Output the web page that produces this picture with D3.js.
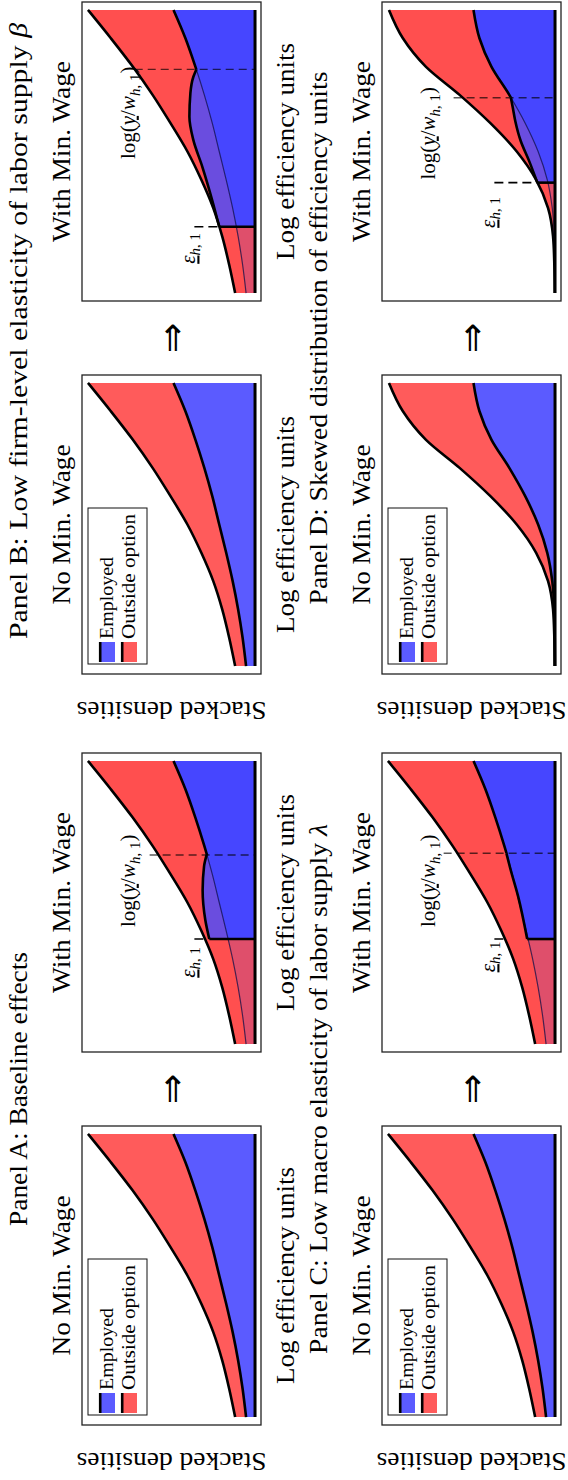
<!DOCTYPE html>
<html>
<head>
<meta charset="utf-8">
<script src="https://cdn.jsdelivr.net/npm/d3@7"></script>
<style>
  body { margin: 0; background: #fff; }
  svg { display: block; }
  text { font-family: "Liberation Serif", "DejaVu Serif", serif; fill: #000; }
</style>
</head>
<body>
<div id="chart"></div>
<script>
// log efficiency units, normalised to the plotted range
const effUnits = [0, 0.1, 0.2, 0.3, 0.4, 0.5, 0.6, 0.7, 0.8, 0.9, 1.0];

// stacked densities, panels A-C share the same distribution
const employedBase = [0.09, 0.125, 0.17, 0.225, 0.29, 0.36, 0.43, 0.51, 0.60, 0.70, 0.82];
const outsideBase  = [0.11, 0.135, 0.16, 0.195, 0.25, 0.32, 0.42, 0.52, 0.63, 0.75, 0.86];

// panel D, skewed distribution of efficiency units
const employedSkew = [0.001, 0.003, 0.008, 0.028, 0.078, 0.17, 0.30, 0.46, 0.64, 0.76, 0.82];
const outsideSkew  = [0.002, 0.004, 0.012, 0.042, 0.112, 0.215, 0.35, 0.50, 0.66, 0.77, 0.85];

// with min. wage: employment threshold and kink at log(y/w) for panels A-D
const thresholds = [0.371, 0.234, 0.371, 0.39];
const kinks      = [0.668, 0.79, 0.674, 0.69];

// employment between the threshold and the kink once the min. wage binds
const newEmpXA = [0.371, 0.438, 0.544, 0.627, 0.668];
const newEmpA  = [0.46, 0.50, 0.527, 0.513, 0.487];
const newEmpXB = [0.234, 0.327, 0.446, 0.54, 0.623, 0.706, 0.764, 0.79];
const newEmpB  = [0.36, 0.43, 0.53, 0.62, 0.66, 0.65, 0.62, 0.59];
const newEmpXC = [0.371, 0.52, 0.62, 0.674];
const newEmpC  = [0.28, 0.37, 0.45, 0.489];
const newEmpXD = [0.39, 0.466, 0.537, 0.608, 0.655, 0.69];
const newEmpD  = [0.178, 0.26, 0.345, 0.40, 0.425, 0.444];

const panelTitles = [
  "Panel A: Baseline effects",
  "Panel B: Low firm-level elasticity of labor supply ",
  "Panel C: Low macro elasticity of labor supply ",
  "Panel D: Skewed distribution of efficiency units"
];
const panelSymbols = ["", "β", "λ", ""];
const legendLabels = ["Employed", "Outside option"];

// colours
const RED0 = "#ff5b5b", BLUE0 = "#5b5bff";
const RED1 = "#ff4f4f", BLUE1 = "#4646ff", PINK = "#df4f6b", PURPLE = "#6a4ddf";

const W = 568, H = 1480;
const boxW = 299, boxH = 179;

const svg = d3.select("#chart").append("svg")
  .attr("width", W)
  .attr("height", H);

// the figure is laid out in landscape and turned a quarter turn anticlockwise
const fig = svg.append("g")
  .attr("transform", `translate(0,${H}) rotate(-90)`);
const defs = svg.append("defs");

const panels = [
  { emp: employedBase, out: outsideBase, newX: newEmpXA, newY: newEmpA, left: 55, top: 82,
    titleLen: 274, logX: 0.74, epsX: 0.343, kinkTop: 1.06 },
  { emp: employedBase, out: outsideBase, newX: newEmpXB, newY: newEmpB, left: 806, top: 82,
    titleLen: 616, logX: 0.80, epsX: 0.212, kinkTop: 1.21 },
  { emp: employedBase, out: outsideBase, newX: newEmpXC, newY: newEmpC, left: 55, top: 382,
    titleLen: 530, logX: 0.74, epsX: 0.362, kinkTop: 1.12 },
  { emp: employedSkew, out: outsideSkew, newX: newEmpXD, newY: newEmpD, left: 806, top: 382,
    titleLen: 533, logX: 0.728, epsX: 0.339, kinkTop: 1.02 }
];

function makeScales(bx, by) {
  return {
    x: d3.scaleLinear().domain([-0.028, 1.028]).range([bx, bx + boxW]),
    y: d3.scaleLinear().domain([-0.06, 1.74]).range([by + boxH, by])
  };
}

function stackRows(emp, out) {
  const rows = effUnits.map((u, i) => ({ u: u, employed: emp[i], outside: out[i] }));
  return d3.stack().keys(["employed", "outside"])(rows);
}

function thick(sel, w) {
  return sel.attr("fill", "none").attr("stroke", "#000")
    .attr("stroke-width", w || 2.6).attr("stroke-linejoin", "round");
}

function clipRect(id, x0, x1, by) {
  defs.append("clipPath").attr("id", id)
    .append("rect")
    .attr("x", x0).attr("y", by - 5)
    .attr("width", x1 - x0).attr("height", boxH + 10);
  return `url(#${id})`;
}

function frame(g, bx, by) {
  g.append("rect")
    .attr("x", bx).attr("y", by)
    .attr("width", boxW).attr("height", boxH)
    .attr("fill", "none").attr("stroke", "#222").attr("stroke-width", 1.3);
}

function subTitle(g, bx, by, label, len) {
  g.append("text")
    .attr("x", bx + boxW / 2).attr("y", by - 12)
    .attr("text-anchor", "middle")
    .attr("font-size", 25)
    .attr("textLength", len).attr("lengthAdjust", "spacingAndGlyphs")
    .text(label);
}

function xLabel(g, bx, by) {
  if (by > 300) return; // lower row labels fall below the page
  g.append("text")
    .attr("x", bx + boxW / 2).attr("y", by + boxH + 33)
    .attr("text-anchor", "middle")
    .attr("font-size", 25)
    .attr("textLength", 217).attr("lengthAdjust", "spacingAndGlyphs")
    .text("Log efficiency units");
}

function drawNoMin(p, bx, by) {
  const g = fig.append("g");
  const { x, y } = makeScales(bx, by);
  const series = stackRows(p.emp, p.out);

  const area = d3.area()
    .x(d => x(d.data.u)).y0(d => y(d[0])).y1(d => y(d[1]))
    .curve(d3.curveMonotoneX);
  const line = d3.line()
    .x(d => x(d.data.u)).y(d => y(d[1]))
    .curve(d3.curveMonotoneX);

  g.append("path").attr("d", area(series[1])).attr("fill", RED0);
  g.append("path").attr("d", area(series[0])).attr("fill", BLUE0);
  thick(g.append("path").attr("d", line(series[1])));
  thick(g.append("path").attr("d", line(series[0])));
  thick(g.append("line")
    .attr("x1", x(0)).attr("x2", x(1))
    .attr("y1", y(0)).attr("y2", y(0)), 3);

  frame(g, bx, by);

  // legend
  const lg = g.append("g").attr("transform", `translate(${bx + 10},${by + 6})`);
  lg.append("rect")
    .attr("width", 156).attr("height", 59)
    .attr("fill", "#fff").attr("stroke", "#111").attr("stroke-width", 1);
  [BLUE0, RED0].forEach((c, i) => {
    const top = i === 0 ? 11 : 33;
    lg.append("rect")
      .attr("x", 2).attr("y", top)
      .attr("width", 20).attr("height", 16)
      .attr("fill", c);
    lg.append("line")
      .attr("x1", 2).attr("x2", 22)
      .attr("y1", top + 1.2).attr("y2", top + 1.2)
      .attr("stroke", "#000").attr("stroke-width", 2.6);
    lg.append("text")
      .attr("x", 25).attr("y", top + 14)
      .attr("font-size", 18)
      .attr("textLength", i === 0 ? 82 : 125).attr("lengthAdjust", "spacingAndGlyphs")
      .text(legendLabels[i]);
  });

  subTitle(g, bx, by, "No Min. Wage", 160);
  xLabel(g, bx, by);

  g.append("text")
    .attr("transform", `translate(${bx - 28},${by + boxH / 2}) rotate(-90)`)
    .attr("text-anchor", "middle")
    .attr("font-size", 25)
    .attr("textLength", 190).attr("lengthAdjust", "spacingAndGlyphs")
    .text("Stacked densities");
}

function drawWithMin(p, idx, bx, by) {
  const g = fig.append("g");
  const { x, y } = makeScales(bx, by);
  const series = stackRows(p.emp, p.out);
  const thr = thresholds[idx], kink = kinks[idx];
  const newPts = p.newX.map((u, i) => [u, p.newY[i]]);

  const areaStack = d3.area()
    .x(d => x(d.data.u)).y0(() => y(0)).y1(d => y(d[1]))
    .curve(d3.curveMonotoneX);
  const lineStack = d3.line()
    .x(d => x(d.data.u)).y(d => y(d[1]))
    .curve(d3.curveMonotoneX);
  const areaNew = d3.area()
    .x(d => x(d[0])).y0(() => y(0)).y1(d => y(d[1]))
    .curve(d3.curveMonotoneX);
  const lineNew = d3.line()
    .x(d => x(d[0])).y(d => y(d[1]))
    .curve(d3.curveMonotoneX);

  const cLeft = clipRect(`c${idx}l`, bx, x(thr), by);
  const cRight = clipRect(`c${idx}r`, x(thr), bx + boxW, by);
  const cPre = clipRect(`c${idx}p`, bx, x(kink), by);
  const cPost = clipRect(`c${idx}a`, x(kink), bx + boxW, by);

  // threshold marker, sits under the fills
  g.append("line")
    .attr("x1", x(thr)).attr("x2", x(thr))
    .attr("y1", y(0.61)).attr("y2", y(0))
    .attr("stroke", "#000").attr("stroke-width", 1.6)
    .attr("stroke-dasharray", "9,5");

  g.append("path").attr("d", areaStack(series[1])).attr("fill", RED1);
  g.append("path").attr("d", areaNew(newPts)).attr("fill", PURPLE);
  g.append("path").attr("d", areaStack(series[0])).attr("fill", BLUE1).attr("clip-path", cRight);
  g.append("path").attr("d", areaStack(series[0])).attr("fill", PINK).attr("clip-path", cLeft);

  thick(g.append("path").attr("d", lineStack(series[1])));
  g.append("path").attr("d", lineStack(series[0]))
    .attr("fill", "none").attr("stroke", "#10104a").attr("stroke-opacity", 0.75)
    .attr("stroke-width", 1.2).attr("clip-path", cPre);
  thick(g.append("path").attr("d", lineStack(series[0]))).attr("clip-path", cPost);
  thick(g.append("path").attr("d", lineNew(newPts)));
  thick(g.append("path").attr("d", lineNew([[thr, 0], newPts[0]])));

  // kink at log(y/w), drawn over the fills
  g.append("line")
    .attr("x1", x(kink)).attr("x2", x(kink))
    .attr("y1", y(p.kinkTop)).attr("y2", y(0))
    .attr("stroke", "#000").attr("stroke-opacity", 0.65).attr("stroke-width", 1.4)
    .attr("stroke-dasharray", "8,5");

  thick(g.append("line")
    .attr("x1", x(0)).attr("x2", x(1))
    .attr("y1", y(0)).attr("y2", y(0)), 3);

  frame(g, bx, by);

  const logLab = g.append("text")
    .attr("x", x(p.logX)).attr("y", y(1.21))
    .attr("text-anchor", "end")
    .attr("font-size", 21);
  logLab.append("tspan").text("log(");
  logLab.append("tspan").attr("font-style", "italic").attr("text-decoration", "underline").text("y");
  logLab.append("tspan").text("/");
  logLab.append("tspan").attr("font-style", "italic").text("w");
  logLab.append("tspan").attr("dy", 5).attr("font-size", 15).attr("font-style", "italic").text("h");
  logLab.append("tspan").attr("font-size", 15).text(", 1");
  logLab.append("tspan").attr("dy", -5).text(")");

  const epsLab = g.append("text")
    .attr("x", x(p.epsX)).attr("y", y(0.6))
    .attr("text-anchor", "end")
    .attr("font-size", 21);
  epsLab.append("tspan").attr("font-style", "italic").attr("text-decoration", "underline").text("ε");
  epsLab.append("tspan").attr("dy", 5).attr("font-size", 15).attr("font-style", "italic").text("h");
  epsLab.append("tspan").attr("font-size", 15).text(", 1");

  subTitle(g, bx, by, "With Min. Wage", 181);
  xLabel(g, bx, by);
}

panels.forEach((p, i) => {
  const bx1 = p.left, bx2 = p.left + 373, by = p.top;
  drawNoMin(p, bx1, by);
  drawWithMin(p, i, bx2, by);

  // arrow between the two states
  fig.append("text")
    .attr("x", (bx1 + boxW + bx2) / 2).attr("y", by + boxH / 2)
    .attr("text-anchor", "middle").attr("dominant-baseline", "central")
    .style("font-family", "'DejaVu Sans', sans-serif")
    .attr("font-size", 36)
    .text("⇒");

  const title = fig.append("text")
    .attr("x", (bx1 + bx2 + boxW) / 2 + (i === 1 ? 7 : 0)).attr("y", by - 55)
    .attr("text-anchor", "middle")
    .attr("font-size", 25)
    .attr("textLength", p.titleLen).attr("lengthAdjust", "spacingAndGlyphs");
  title.append("tspan").text(panelTitles[i]);
  if (panelSymbols[i]) title.append("tspan").attr("font-style", "italic").text(panelSymbols[i]);
});
</script>
</body>
</html>
